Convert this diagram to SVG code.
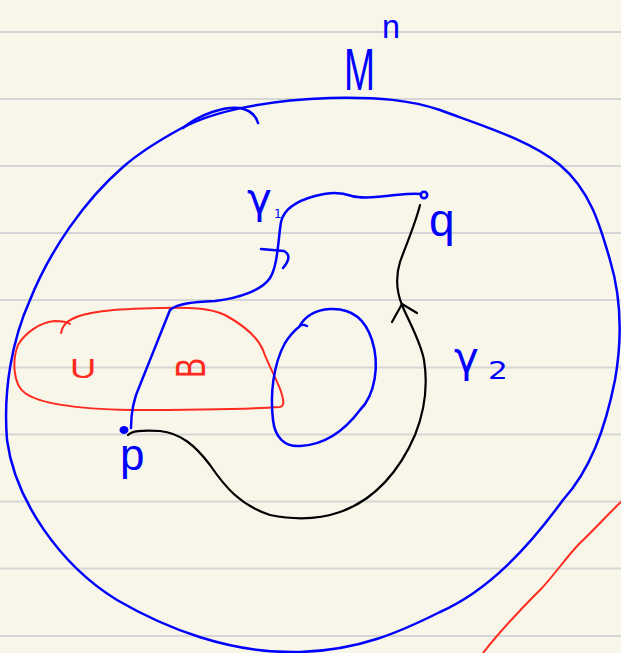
<svg xmlns="http://www.w3.org/2000/svg" width="621" height="653" viewBox="0 0 621 653">
<style>
.rule{stroke:#d5d5d5;stroke-width:2}
.b{fill:none;stroke:#0000ff;stroke-width:2.5;stroke-linecap:round;stroke-linejoin:round}
.r{fill:none;stroke:#ff2a1f;stroke-width:2;stroke-linecap:round;stroke-linejoin:round}
.k{fill:none;stroke:#000;stroke-width:2.2;stroke-linecap:round;stroke-linejoin:round}
.tb{fill:#0000ff;font-family:"Liberation Sans","DejaVu Sans",sans-serif}
.tg{fill:#0000ff;font-family:"DejaVu Sans","Liberation Sans",sans-serif}
.tr{fill:#ff2a1f;font-family:"Liberation Sans","DejaVu Sans",sans-serif}
</style>
<rect width="621" height="653" fill="#f8f6e9"/>
<g id="paper-lines">
<line class="rule" x1="0" y1="32" x2="621" y2="32"/>
<line class="rule" x1="0" y1="99" x2="621" y2="99"/>
<line class="rule" x1="0" y1="166" x2="621" y2="166"/>
<line class="rule" x1="0" y1="233" x2="621" y2="233"/>
<line class="rule" x1="0" y1="300" x2="621" y2="300"/>
<line class="rule" x1="0" y1="367.5" x2="621" y2="367.5"/>
<line class="rule" x1="0" y1="434.5" x2="621" y2="434.5"/>
<line class="rule" x1="0" y1="501.5" x2="621" y2="501.5"/>
<line class="rule" x1="0" y1="568.5" x2="621" y2="568.5"/>
<line class="rule" x1="0" y1="636" x2="621" y2="636"/>
</g>
<g id="manifold">
<path class="b" d="M180,129 C215,110 270,100 330,98 C380,97 410,100 440,110 C480,125 530,140 560,165 C590,190 600,225 610,260 C622,300 622,340 615,380 C605,430 590,470 563,500 C530,545 490,590 440,612 C400,632 360,650 300,652 C230,654 165,628 117,600 C60,565 15,500 7,440 C3,390 12,340 30,300 C50,250 85,200 123,167 C140,152 160,140 180,129"/>
<path class="b" d="M183,128 C200,114 225,106 240,108 C250,110 256,116 258,123"/>
<text class="tb" font-size="60" transform="translate(344,90) scale(0.62,1)">M</text>
<text class="tb" font-size="34" transform="translate(382,38) scale(0.95,1)">n</text>
</g>
<g id="region-U">
<path class="r" d="M61,333 C62,327 66,322 72,319 C85,312 110,309 160,308 C190,307 210,308 225,315 C245,326 258,338 263,350 C268,365 280,385 282,395 C284,402 284,406 280,407 C250,409 190,410 130,410 C80,409 40,404 25,393 C13,385 12,360 18,345 C25,333 40,322 55,321 C62,321 67,322 70,324"/>
<text class="tr" font-size="28" transform="translate(70,378) scale(1.3,1)">U</text>
<text class="tr" font-size="30" transform="translate(205,378) rotate(-90) scale(1,1.4)">B</text>
</g>
<g id="hole">
<path class="b" d="M307,326 C303,324 300,325 299,327 C305,316 315,310 330,309 C350,308 365,318 372,340 C380,365 375,395 360,410 C345,430 325,445 300,446 C285,447 275,438 273,420 C270,395 273,365 285,343 C290,335 295,330 300,326"/>
</g>
<g id="point-p">
<ellipse cx="124" cy="430" rx="4.5" ry="4" fill="#0000ff"/>
<text class="tb" x="120" y="470" font-size="44">p</text>
</g>
<g id="point-q">
<circle cx="424" cy="195" r="3.2" fill="none" stroke="#0000ff" stroke-width="2.6"/>
<text class="tb" x="429" y="236" font-size="46">q</text>
</g>
<g id="connectors">
<g id="gamma1">
<path class="b" d="M131,428 C131,415 133,400 140,385 C150,360 162,330 170,310 C178,303 195,302 215,301 C240,298 262,290 270,278 C278,265 278,240 281,222 C284,208 300,200 315,196 C330,192 340,192 352,196 C362,199 380,197 395,195 C405,194 415,193 421,194"/>
<path class="b" d="M261,249 L284,251 C290,254 290,260 283,268"/>
<text class="tg" x="247" y="213" font-size="42">γ</text>
<text class="tg" x="274" y="218" font-size="12">1</text>
</g>
<g id="gamma2">
<path class="k" d="M128,435 C132,431 140,430 160,431 C180,433 195,445 210,465 C225,487 240,505 270,515 C295,520 320,519 340,512 C375,500 400,470 415,435 C425,410 428,385 424,360 C420,340 408,320 402,305 C396,290 396,275 400,262 C406,245 415,225 420,205"/>
<path class="k" d="M392,322 L402,304 L417,313"/>
<text class="tg" x="454" y="372" font-size="42">γ</text>
<text class="tg" font-size="24" transform="translate(488,379) scale(1.3,1)">2</text>
</g>
</g>
<g id="edge-stroke">
<path class="r" d="M621,502 C610,512 592,532 580,543 C568,555 552,578 540,590 C525,605 505,625 483,653"/>
</g>
</svg>
